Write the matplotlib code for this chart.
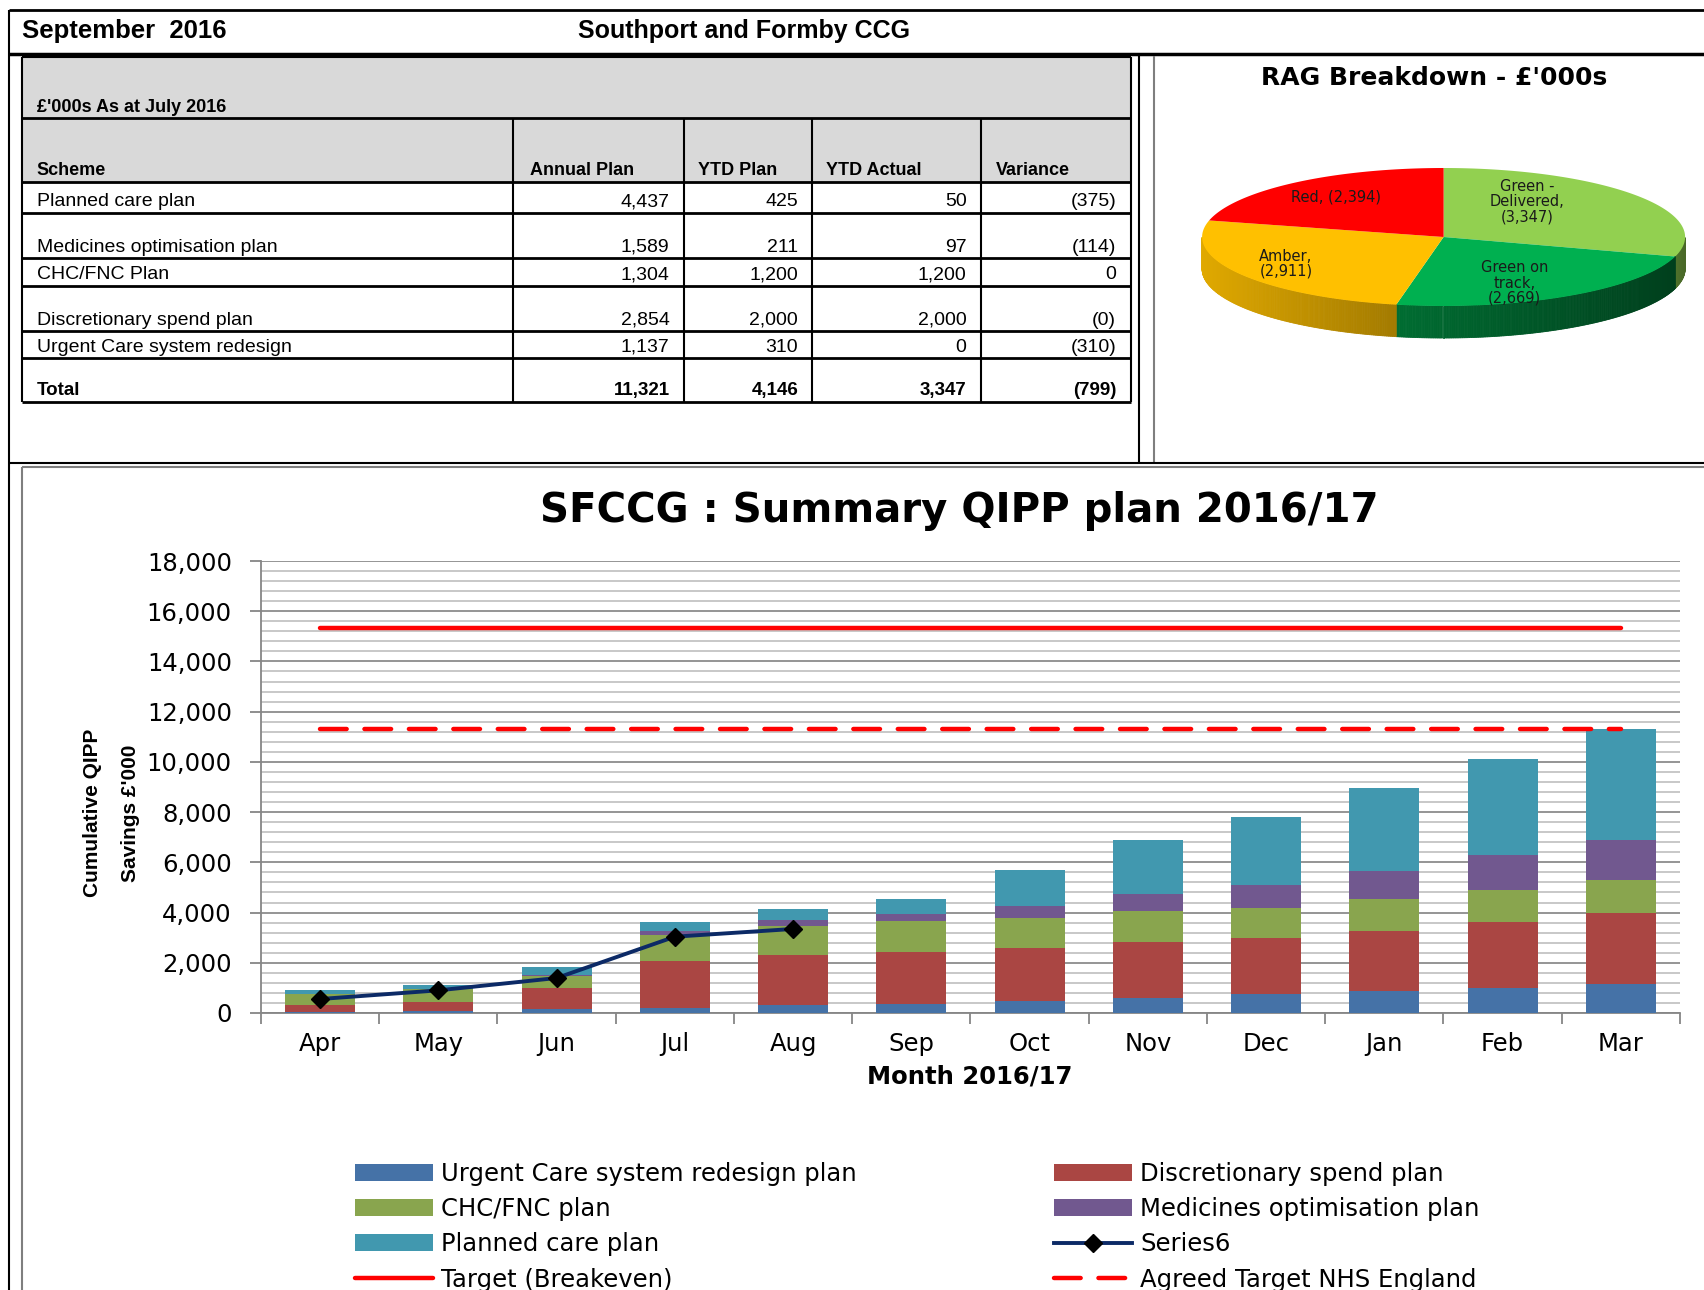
import matplotlib
matplotlib.use("Agg")
import matplotlib.pyplot as plt
from matplotlib.patches import Polygon, Rectangle, Patch
from matplotlib.colors import to_rgb
from matplotlib.ticker import FixedLocator, MultipleLocator, FuncFormatter
import numpy as np

W, H = 1704, 1290

# ---- header / table
header_left = "September  2016"
header_mid = "Southport and Formby CCG"
table_caption = "£'000s As at July 2016"
col_names = ["Scheme", "Annual Plan", "YTD Plan", "YTD Actual", "Variance"]
schemes = ["Planned care plan", "Medicines optimisation plan", "CHC/FNC Plan",
           "Discretionary spend plan", "Urgent Care system redesign", "Total"]
annual_plan = ["4,437", "1,589", "1,304", "2,854", "1,137", "11,321"]
ytd_plan = ["425", "211", "1,200", "2,000", "310", "4,146"]
ytd_actual = ["50", "97", "1,200", "2,000", "0", "3,347"]
variance = ["(375)", "(114)", "0", "(0)", "(310)", "(799)"]

# ---- RAG pie (clockwise from 12 o'clock)
rag_labels = ["Green -\nDelivered,\n(3,347)", "Green on\ntrack,\n(2,669)",
              "Amber,\n(2,911)", "Red, (2,394)"]
rag_values = [3347, 2669, 2911, 2394]
rag_colors = ["#92D050", "#00B050", "#FFC000", "#FF0000"]

# ---- QIPP chart (monthly stacked components, £'000)
months = ["Apr", "May", "Jun", "Jul", "Aug", "Sep", "Oct", "Nov", "Dec", "Jan", "Feb", "Mar"]
urgent = [50, 93, 172, 212, 305, 358, 478, 610, 743, 863, 1008, 1137]
discretionary = [255, 345, 836, 1871, 2004, 2084, 2096, 2217, 2229, 2401, 2615, 2854]
chc = [465, 504, 478, 1009, 1154, 1207, 1208, 1220, 1208, 1261, 1260, 1304]
medicines = [0, 10, 20, 172, 226, 279, 478, 704, 916, 1128, 1394, 1589]
planned = [132, 176, 325, 345, 438, 597, 1446, 2123, 2693, 3318, 3821, 4437]
series6 = [557, 902, 1393, 3039, 3347]
target_breakeven = [15321, 15321, 15321, 15321, 15321, 15321, 15321, 15321, 15321, 15321, 15321, 15321]
agreed_target = [11321, 11321, 11321, 11321, 11321, 11321, 11321, 11321, 11321, 11321, 11321, 11321]

fig = plt.figure(figsize=(W / 100, H / 100), dpi=100)
bg = fig.add_axes([0, 0, 1, 1])
bg.set_xlim(0, W)
bg.set_ylim(H, 0)
bg.axis("off")


def hline(y, x0, x1, lw=1.5, c="black"):
    bg.plot([x0, x1], [y, y], color=c, lw=lw, solid_capstyle="butt")


def vline(x, y0, y1, lw=1.5, c="black"):
    bg.plot([x, x], [y0, y1], color=c, lw=lw, solid_capstyle="butt")


TF = ["Liberation Sans", "DejaVu Sans"]

# page frame
hline(10, 9, W, 2)
vline(9, 10, H, 1.5)
hline(53.5, 9, W, 2.5)
bg.text(22, 38, header_left, fontsize=18.5, fontweight="bold", family=TF, va="baseline")
bg.text(744, 38, header_mid, fontsize=18, fontweight="bold", family=TF, ha="center", va="baseline")

# table
tl, tr = 22, 1131
bg.add_patch(Rectangle((tl, 56.7), tr - tl, 181.7 - 56.7, facecolor="#D9D9D9", edgecolor="none"))
row_bottoms = [212.7, 258.3, 285.7, 331, 358.3, 401.7]
col_x = [513.4, 683.5, 811.9, 981.3]
hline(56.7, tl, tr, 1.5)
for y in [118.3, 181.7] + row_bottoms:
    hline(y, tl, tr, 2)
vline(tl, 56.7, 401.7)
vline(tr, 56.7, 401.7)
for x in col_x:
    vline(x, 118.3, 401.7)
bg.text(36.7, 112, table_caption, fontsize=13, fontweight="bold", family=TF, va="baseline")
header_x = [36.7, 529.5, 698, 826.5, 996]
for xx, name in zip(header_x, col_names):
    bg.text(xx, 175.4, name, fontsize=13, fontweight="bold", family=TF, va="baseline")
value_right = [669.6, 798, 966.6, 1116.2]
for i, yb in enumerate(row_bottoms):
    total_row = schemes[i] == "Total"
    fw = "bold" if total_row else "normal"
    fs = 13.5 if total_row else 14
    bg.text(36.7, yb - 6.3, schemes[i], fontsize=fs, fontweight=fw, family=TF, va="baseline")
    for xr, col in zip(value_right, [annual_plan, ytd_plan, ytd_actual, variance]):
        bg.text(xr, yb - 6.3, col[i], fontsize=fs, fontweight=fw, family=TF, ha="right", va="baseline")

# panel separators
vline(1139, 53.5, 463.3, 1.5)
vline(1153.5, 56, 463.3, 1.5, "#7F7F7F")
hline(463.3, 9, W, 1.5)
hline(466.5, 22, W, 1.5, "#7F7F7F")
vline(22, 466.5, H, 1.5, "#7F7F7F")

# ---- 3D-looking RAG pie
bg.text(1434, 78, "RAG Breakdown - £'000s", fontsize=18, fontweight="bold", ha="center", va="center")
cx, cy, a, b, depth = 1443.6, 237, 241.5, 69, 32
total = sum(rag_values)
start = 90.0
shades = [(0.55, 0.5), (0.62, 0.36), (0.88, 0.64), (0.7, 0.6)]
for val, col, (s0, s1) in zip(rag_values, rag_colors, shades):
    span = 360.0 * val / total
    th = np.radians(np.linspace(start - span, start, 200))
    # side wall on the front half
    idx = np.where(np.sin(th) < 1e-9)[0]
    if len(idx) > 1:
        xs = cx + a * np.cos(th[idx])
        ys = cy - b * np.sin(th[idx])
        x_lo, x_hi = xs.min(), xs.max()
        base = np.array(to_rgb(col))
        for k in range(len(idx) - 1):
            if idx[k + 1] != idx[k] + 1:
                continue
            t = (0.5 * (xs[k] + xs[k + 1]) - x_lo) / max(x_hi - x_lo, 1)
            c = tuple(base * (s0 + (s1 - s0) * t))
            quad = [(xs[k], ys[k]), (xs[k + 1], ys[k + 1]),
                    (xs[k + 1], ys[k + 1] + depth), (xs[k], ys[k] + depth)]
            bg.add_patch(Polygon(quad, closed=True, facecolor=c, edgecolor=c, lw=0.6))
    pts = [(cx, cy)] + list(zip(cx + a * np.cos(th), cy - b * np.sin(th)))
    bg.add_patch(Polygon(pts, closed=True, facecolor=col, edgecolor="none"))
    start -= span

label_pos = [(1527, 201.7), (1514.7, 283), (1286, 264), (1336, 196.7)]
for (lx, ly), lab in zip(label_pos, rag_labels):
    bg.text(lx, ly, lab, fontsize=10.5, ha="center", va="center", linespacing=1.0, color="#1a1a1a")

# ---- QIPP chart
ax = fig.add_axes([261 / W, 1 - 1013 / H, (1680 - 261) / W, (1013 - 561) / H])
x = np.arange(len(months))
bottoms = np.zeros(len(months))
series = [
    (urgent, "#4572A7", "Urgent Care system redesign plan"),
    (discretionary, "#AA4643", "Discretionary spend plan"),
    (chc, "#89A54E", "CHC/FNC plan"),
    (medicines, "#71588F", "Medicines optimisation plan"),
    (planned, "#4198AF", "Planned care plan"),
]
handles = {}
for vals, col, lab in series:
    ax.bar(x, vals, 0.59, bottom=bottoms, color=col, zorder=3)
    bottoms += np.array(vals)
    handles[lab] = Patch(facecolor=col)

h6, = ax.plot(x[:len(series6)], series6, color="#0C2A66", lw=2.8, marker="D", ms=9,
              mfc="black", mec="black", zorder=6)
ht, = ax.plot(x, target_breakeven, color="#FF0000", lw=3.2, solid_capstyle="round", zorder=5)
ha, = ax.plot(x, agreed_target, color="#FF0000", lw=3.2, dashes=(6, 4),
              dash_capstyle="round", zorder=5)
handles["Series6"] = h6
handles["Target (Breakeven)"] = ht
handles["Agreed Target NHS England"] = ha

ax.set_xlim(-0.5, len(months) - 0.5)
ax.set_ylim(0, 18000)
ax.yaxis.set_major_locator(MultipleLocator(2000))
ax.yaxis.set_minor_locator(MultipleLocator(400))
ax.yaxis.set_major_formatter(FuncFormatter(lambda v, p: f"{int(v):,}"))
ax.grid(which="major", axis="y", color="#8C8C8C", lw=1.3, zorder=0)
ax.grid(which="minor", axis="y", color="#C4C4C4", lw=1.3, zorder=0)
ax.set_axisbelow(True)
ax.xaxis.set_major_locator(FixedLocator(np.arange(-0.5, len(months), 1.0)))
ax.xaxis.set_major_formatter(FuncFormatter(lambda v, p: ""))
ax.set_xticks(x, months, minor=True)
ax.tick_params(axis="x", which="major", length=8, width=1.3, color="#868686", direction="out")
ax.tick_params(axis="x", which="minor", length=0, pad=14, labelsize=17.5)
ax.tick_params(axis="y", which="major", length=8, width=1.3, color="#868686", pad=13, labelsize=17.5)
ax.tick_params(axis="y", which="minor", length=0)
for sp in ["top", "right"]:
    ax.spines[sp].set_visible(False)
for sp in ["left", "bottom"]:
    ax.spines[sp].set_color("#868686")
    ax.spines[sp].set_linewidth(1.3)

bg.text(959, 511, "SFCCG : Summary QIPP plan 2016/17", fontsize=29, fontweight="bold",
        ha="center", va="center")
bg.text(970, 1077, "Month 2016/17", fontsize=17.5, fontweight="bold", ha="center", va="center")
NF = ["Liberation Sans Narrow", "Liberation Sans"]
bg.text(93, 813, "Cumulative QIPP", fontsize=15, fontweight="bold", family=NF,
        rotation=90, ha="center", va="center")
bg.text(130, 813, "Savings £'000", fontsize=15, fontweight="bold", family=NF,
        rotation=90, ha="center", va="center")

col1 = ["Urgent Care system redesign plan", "CHC/FNC plan", "Planned care plan", "Target (Breakeven)"]
col2 = ["Discretionary spend plan", "Medicines optimisation plan", "Series6", "Agreed Target NHS England"]
for names, x0 in [(col1, 355), (col2, 1054)]:
    fig.legend([handles[n] for n in names], names, loc="upper left",
               bbox_to_anchor=(x0 / W, 1 - 1162 / H), frameon=False, fontsize=17.5,
               handlelength=3.2, handletextpad=0.35, labelspacing=0.46,
               borderpad=0, borderaxespad=0)

fig.savefig("out.png", dpi=100)
